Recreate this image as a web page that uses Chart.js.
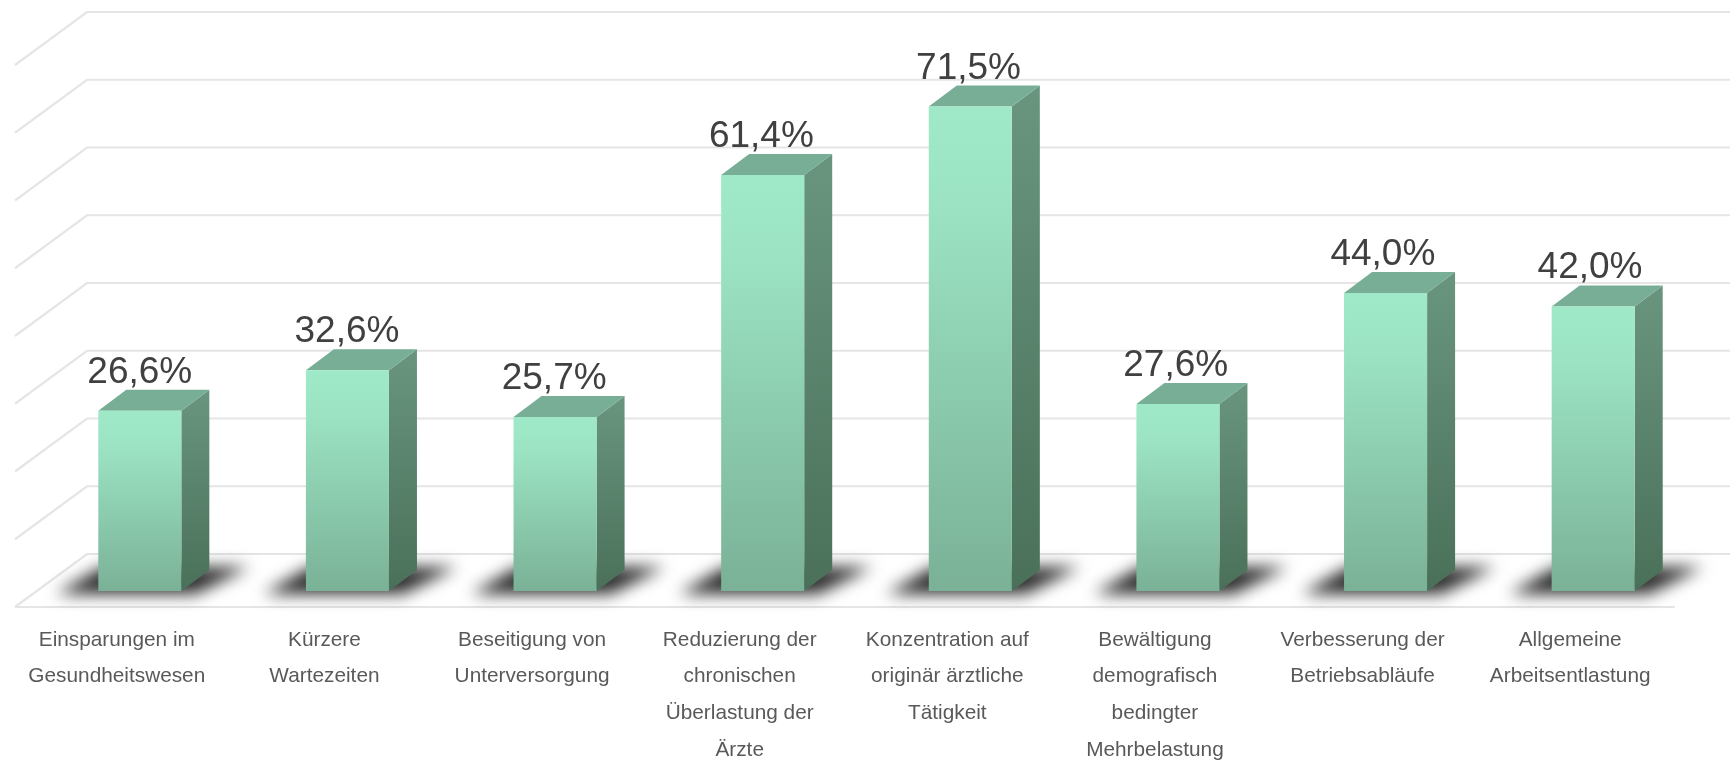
<!DOCTYPE html>
<html>
<head>
<meta charset="utf-8">
<title>Chart</title>
<style>
  html, body { margin: 0; padding: 0; background: #fff; overflow: hidden; }
  canvas { display: block; }
</style>
<script src="https://cdn.jsdelivr.net/npm/chart.js@4"></script>
</head>
<body>
<canvas id="myChart" width="1730" height="760"></canvas>
<script>
const categories = [
  ['Einsparungen im', 'Gesundheitswesen'],
  ['Kürzere', 'Wartezeiten'],
  ['Beseitigung von', 'Unterversorgung'],
  ['Reduzierung der', 'chronischen', 'Überlastung der', 'Ärzte'],
  ['Konzentration auf', 'originär ärztliche', 'Tätigkeit'],
  ['Bewältigung', 'demografisch', 'bedingter', 'Mehrbelastung'],
  ['Verbesserung der', 'Betriebsabläufe'],
  ['Allgemeine', 'Arbeitsentlastung'],
];
const values = [26.6, 32.6, 25.7, 61.4, 71.5, 27.6, 44.0, 42.0];
const gridValues = [0, 10, 20, 30, 40, 50, 60, 70, 80];

// depth of the fake 3d box
const barDepthX = 28;
const barDepthY = 21;
const wallDepthX = 72;
const wallDepthY = 53;
const floorFront = 16;

function vertical(ctx, y0, y1, stops) {
  const g = ctx.createLinearGradient(0, y0, 0, y1);
  stops.forEach((s) => g.addColorStop(s[0], s[1]));
  return g;
}

const box3d = {
  id: 'box3d',
  beforeDatasetsDraw(chart) {
    const { ctx, scales } = chart;
    const bars = chart.getDatasetMeta(0).data;
    const y = scales.y;
    const left = 15;

    // walls and floor
    ctx.save();
    ctx.strokeStyle = '#e5e5e5';
    ctx.lineWidth = 2.2;
    gridValues.forEach((v) => {
      const p = y.getPixelForValue(v);
      ctx.beginPath();
      ctx.moveTo(left, p + floorFront);
      ctx.lineTo(left + wallDepthX, p + floorFront - wallDepthY);
      ctx.lineTo(chart.width, p + floorFront - wallDepthY);
      ctx.stroke();
    });
    const base = y.getPixelForValue(0) + floorFront;
    ctx.beginPath();
    ctx.moveTo(left, base);
    ctx.lineTo(1675, base);
    ctx.stroke();
    ctx.restore();

    // floor shadows
    ctx.save();
    ctx.filter = 'blur(8px)';
    ctx.fillStyle = '#2b2b2b';
    bars.forEach((b) => {
      const x0 = b.x - b.width / 2;
      const x1 = b.x + b.width / 2;
      const yb = b.base;
      ctx.beginPath();
      ctx.moveTo(x0 - 42, yb + 3);
      ctx.lineTo(x1 + 14, yb + 3);
      ctx.lineTo(x1 + 68, yb - 24);
      ctx.lineTo(x0 + 4, yb - 24);
      ctx.closePath();
      ctx.fill();
    });
    ctx.restore();

    // top and side faces
    bars.forEach((b) => {
      const x0 = b.x - b.width / 2;
      const x1 = b.x + b.width / 2;
      ctx.fillStyle = vertical(ctx, b.y - barDepthY, b.base, [
        [0, '#69957f'],
        [1, '#4a7059'],
      ]);
      ctx.beginPath();
      ctx.moveTo(x1, b.y);
      ctx.lineTo(x1 + barDepthX, b.y - barDepthY);
      ctx.lineTo(x1 + barDepthX, b.base - barDepthY);
      ctx.lineTo(x1, b.base);
      ctx.closePath();
      ctx.fill();

      ctx.fillStyle = '#78ae96';
      ctx.beginPath();
      ctx.moveTo(x0, b.y);
      ctx.lineTo(x0 + barDepthX, b.y - barDepthY);
      ctx.lineTo(x1 + barDepthX, b.y - barDepthY);
      ctx.lineTo(x1, b.y);
      ctx.closePath();
      ctx.fill();
    });
  },
  afterDatasetsDraw(chart) {
    const { ctx } = chart;
    const bars = chart.getDatasetMeta(0).data;
    ctx.save();
    ctx.font = '37px "Liberation Sans", Arial, sans-serif';
    ctx.fillStyle = '#404040';
    ctx.textAlign = 'center';
    ctx.textBaseline = 'alphabetic';
    bars.forEach((b, i) => {
      // the value labels sit a touch tighter than the bars
      ctx.fillText(values[i].toFixed(1).replace('.', ',') + '%', b.x - i * 0.45, b.y - 28);
    });
    ctx.restore();
  },
};

const ctx = document.getElementById('myChart').getContext('2d');
const myChart = new Chart(ctx, {
  type: 'bar',
  data: {
    labels: categories,
    datasets: [
      {
        data: values,
        barPercentage: 0.4,
        categoryPercentage: 1,
        borderWidth: 0,
        backgroundColor: function (c) {
          const chart = c.chart;
          if (!chart.chartArea || c.raw === undefined) {
            return '#9ee8c8';
          }
          const y = chart.scales.y;
          return vertical(chart.ctx, y.getPixelForValue(c.raw), y.getPixelForValue(0), [
            [0, '#9fe9c9'],
            [0.2, '#9be3c3'],
            [1, '#7ab197'],
          ]);
        },
      },
    ],
  },
  options: {
    responsive: false,
    animation: false,
    layout: {
      padding: { left: 36, right: 33, top: 49, bottom: 0 },
    },
    plugins: {
      legend: { display: false },
      tooltip: { enabled: false },
    },
    scales: {
      y: {
        display: false,
        min: 0,
        max: 80,
      },
      x: {
        afterFit(scale) {
          scale.height = 169;
        },
        grid: { display: false },
        border: { display: false },
        ticks: {
          color: '#595959',
          autoSkip: false,
          maxRotation: 0,
          labelOffset: -23,
          padding: 23,
          font: {
            family: '"Liberation Sans", Arial, sans-serif',
            size: 20.8,
            lineHeight: 1.755,
          },
        },
      },
    },
  },
  plugins: [box3d],
});
</script>
</body>
</html>
